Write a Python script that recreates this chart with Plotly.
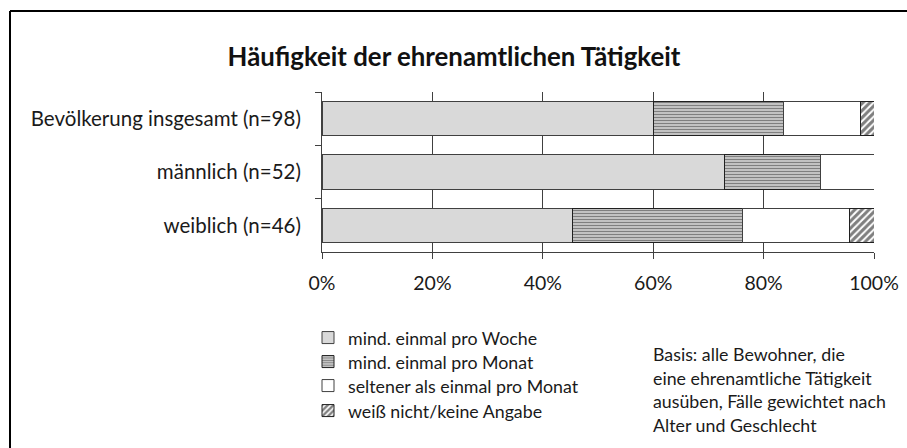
import plotly.graph_objects as go

categories = ["Bevölkerung insgesamt (n=98)", "männlich (n=52)", "weiblich (n=46)"]
series_names = ["mind. einmal pro Woche", "mind. einmal pro Monat",
                "seltener als einmal pro Monat", "weiß nicht/keine Angabe"]
woche = [60.1, 72.9, 45.4]
monat = [23.5, 17.4, 30.7]
seltener = [13.9, 9.7, 19.4]
weiss_nicht = [2.5, 0.0, 4.5]
x_ticks = [0, 20, 40, 60, 80, 100]
x_tick_labels = ["0%", "20%", "40%", "60%", "80%", "100%"]
basis_lines = ["Basis: alle Bewohner, die", "eine ehrenamtliche Tätigkeit",
               "ausüben, Fälle gewichtet nach", "Alter und Geschlecht"]

FONT = "Lato"
TXT = "#1a1a1a"
W, H = 907, 448
L, R, T, B = 322, 874, 92, 252
pw, ph = R - L, B - T

def px_x(p):
    return (p - L) / pw

def px_y(p):
    return (B - p) / ph

edge = dict(color="#404040", width=1)
styles = [
    dict(color="#d9d9d9", line=edge),
    dict(color="white", line=dict(color="#202020", width=1),
         pattern=dict(shape="-", fgcolor="black", bgcolor="white", size=3, solidity=0.65)),
    dict(color="white", line=edge),
    dict(color="white", line=dict(color="#202020", width=1),
         pattern=dict(shape="/", fgcolor="black", bgcolor="white", size=5, solidity=0.6)),
]
legend_ids = ["legend", "legend2", "legend3", "legend4"]
legend_rows = [338, 362, 386, 411]

fig = go.Figure()
for name, vals, st, lg in zip(series_names, [woche, monat, seltener, weiss_nicht], styles, legend_ids):
    fig.add_trace(go.Bar(y=categories, x=vals, name=name, orientation="h", marker=st, legend=lg))

leg_common = dict(xanchor="left", yanchor="middle", bgcolor="rgba(0,0,0,0)", itemwidth=30,
                  font=dict(family=FONT, size=17.8, color=TXT), borderwidth=0)
legends = {}
for lg, row in zip(legend_ids, legend_rows):
    legends[lg] = dict(x=px_x(308), y=px_y(row), **leg_common)

fig.update_layout(
    width=W, height=H, autosize=False,
    margin=dict(l=L, r=W - R, t=T, b=H - B, autoexpand=False),
    barmode="stack", bargap=0.36,
    plot_bgcolor="white", paper_bgcolor="white",
    font=dict(family=FONT, color=TXT, size=18),
    title=dict(text="<b>Häufigkeit der ehrenamtlichen Tätigkeit</b>", x=454 / W, xanchor="center",
               y=1 - 57 / H, yanchor="middle", font=dict(family=FONT, size=25.8, color="#111111")),
    showlegend=True,
    xaxis=dict(range=[0, 100], tickvals=x_ticks, ticktext=x_tick_labels, showgrid=True,
               gridcolor="#404040", gridwidth=1, showline=True, linecolor="#404040",
               ticks="outside", ticklen=6, tickcolor="#404040", zeroline=False, automargin=False,
               tickfont=dict(family=FONT, size=19.5, color=TXT), ticklabelstandoff=8),
    yaxis=dict(autorange="reversed", showline=True, linecolor="#404040", ticks="outside",
               ticklen=6, tickcolor="#404040", tickson="boundaries", showgrid=False, automargin=False,
               tickfont=dict(family=FONT, size=20.5, color=TXT), ticklabelstandoff=16),
    **legends,
)

# outer chart frame (top and left edges; the right and bottom run past the picture)
fig.add_shape(type="line", xref="paper", yref="paper",
              x0=px_x(10), x1=px_x(907), y0=px_y(11), y1=px_y(11),
              line=dict(color="black", width=2), layer="below")
fig.add_shape(type="line", xref="paper", yref="paper",
              x0=px_x(10), x1=px_x(10), y0=px_y(11), y1=px_y(448),
              line=dict(color="black", width=2), layer="below")

for i, line in enumerate(basis_lines):
    fig.add_annotation(text=line, xref="paper", yref="paper", x=px_x(651), y=px_y(354 + i * 23.5),
                       xanchor="left", yanchor="middle", showarrow=False,
                       font=dict(family=FONT, size=17.8, color=TXT))

fig.write_html("out.html", config={"displayModeBar": False, "responsive": False},
               post_script="document.body.style.margin='0';document.body.style.overflow='hidden';")
